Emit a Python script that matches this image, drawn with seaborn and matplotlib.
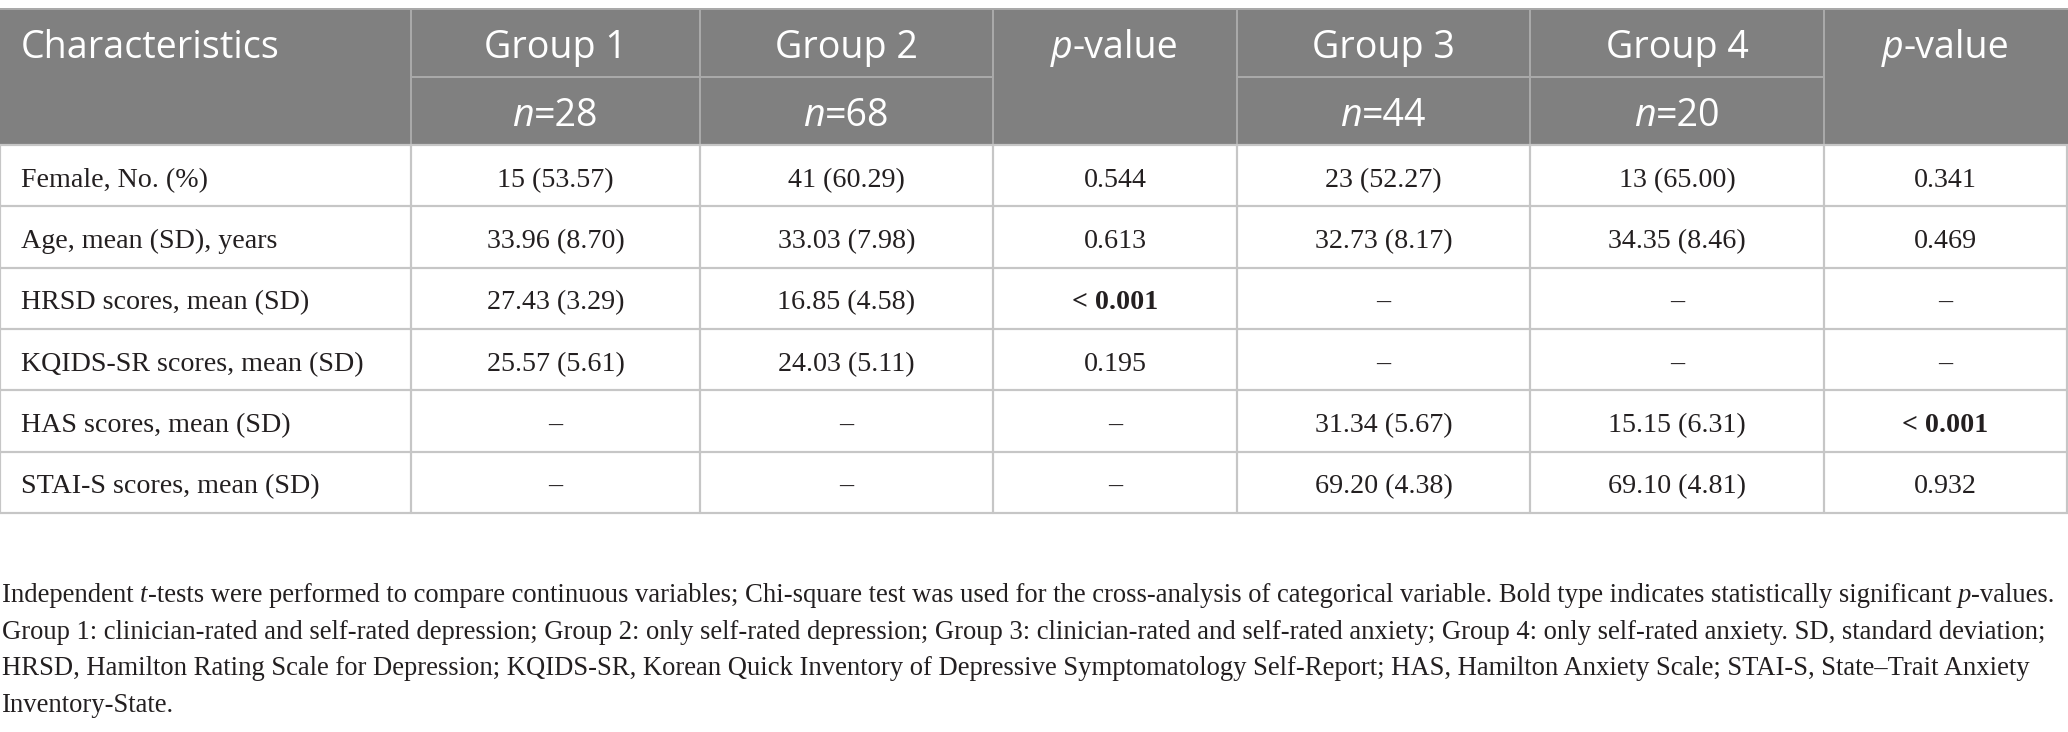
import matplotlib
matplotlib.use("Agg")
import numpy as np
import pandas as pd
import seaborn as sns
import matplotlib.pyplot as plt
from matplotlib.patches import Rectangle

# ---------------- data ----------------
characteristics = ["Female, No. (%)", "Age, mean (SD), years", "HRSD scores, mean (SD)",
                   "KQIDS-SR scores, mean (SD)", "HAS scores, mean (SD)", "STAI-S scores, mean (SD)"]
group1 = ["15 (53.57)", "33.96 (8.70)", "27.43 (3.29)", "25.57 (5.61)", "–", "–"]
group2 = ["41 (60.29)", "33.03 (7.98)", "16.85 (4.58)", "24.03 (5.11)", "–", "–"]
p_12 = ["0.544", "0.613", "< 0.001", "0.195", "–", "–"]
group3 = ["23 (52.27)", "32.73 (8.17)", "–", "–", "31.34 (5.67)", "69.20 (4.38)"]
group4 = ["13 (65.00)", "34.35 (8.46)", "–", "–", "15.15 (6.31)", "69.10 (4.81)"]
p_34 = ["0.341", "0.469", "–", "–", "< 0.001", "0.932"]
significant = ["< 0.001"]
group_labels = ["Group 1", "Group 2", "Group 3", "Group 4"]
group_n = [28, 68, 44, 20]
header_first = "Characteristics"

footnote_lines = [
    [("Independent ", "normal"), ("t", "italic"),
     ("-tests were performed to compare continuous variables; Chi-square test was used for the cross-analysis of categorical variable. Bold type indicates statistically significant ", "normal"),
     ("p", "italic"), ("-values.", "normal")],
    [("Group 1: clinician-rated and self-rated depression; Group 2: only self-rated depression; Group 3: clinician-rated and self-rated anxiety; Group 4: only self-rated anxiety. SD, standard deviation;", "normal")],
    [("HRSD, Hamilton Rating Scale for Depression; KQIDS-SR, Korean Quick Inventory of Depressive Symptomatology Self-Report; HAS, Hamilton Anxiety Scale; STAI-S, State–Trait Anxiety", "normal")],
    [("Inventory-State.", "normal")],
]

table = pd.DataFrame({"Characteristics": characteristics, "G1": group1, "G2": group2,
                      "P12": p_12, "G3": group3, "G4": group4, "P34": p_34})

# ---------------- layout ----------------
sns.set_theme(style="white")
plt.rcParams['font.family'] = ['Liberation Serif', 'DejaVu Serif']

W, H = 2068, 732
fig = plt.figure(figsize=(20.68, 7.32), dpi=100)
ax = fig.add_axes([0, 0, 1, 1])
ax.set_xlim(0, W)
ax.set_ylim(H, 0)
ax.axis('off')
fig.patch.set_facecolor('white')
renderer = fig.canvas.get_renderer()

col_edges = [0, 411, 700, 993, 1237, 1530, 1824, 2067]
head_top, head_mid, head_bot = 9, 77, 145
table_bot = 513
n_rows = len(characteristics)
row_h = (table_bot - head_bot) / n_rows

HEAD_FILL = '#808080'
HEAD_LINE = '#a9a9a9'
BODY_LINE = '#c6c6c6'
TEXT_COL = '#231f20'
SERIF = 'Liberation Serif'
SANS = 'Open Sans'


def measure(s, size, family, style='normal', weight='normal'):
    t = ax.text(0, 0, s, fontsize=size, family=family, style=style, weight=weight)
    w = t.get_window_extent(renderer).width
    t.remove()
    return w


def run_widths(runs, size, family, weight='normal'):
    out = []
    for s, st in runs:
        w = measure(s + "x", size, family, st, weight) - measure("x", size, family, st, weight)
        out.append(w)
    return out


def draw_runs(x, y, runs, size, family, color, ha='left', weight='normal'):
    ws = run_widths(runs, size, family, weight)
    total = sum(ws)
    start = x if ha == 'left' else x - total / 2
    for (s, st), w in zip(runs, ws):
        ax.text(start, y, s, fontsize=size, family=family, style=st, weight=weight,
                color=color, ha='left', va='baseline')
        start += w


# fit font sizes to measured reference widths
base = 20
body_size = base * 343 / measure("KQIDS-SR scores, mean (SD)", base, SERIF)
head_size = base * 257 / measure(header_first, base, SANS)
foot_size = base * 2060 / sum(run_widths(footnote_lines[0], base, SERIF))

# header background
ax.add_patch(Rectangle((0, head_top), W, head_bot - head_top, facecolor=HEAD_FILL,
                       edgecolor='none', zorder=0))
lw_px = 0.72
ax.plot([0, W], [head_top, head_top], color=HEAD_LINE, lw=2 * lw_px)
for x in col_edges[1:-1]:
    ax.plot([x, x], [head_top, head_bot], color=HEAD_LINE, lw=2 * lw_px)
for a, b in [(1, 3), (4, 6)]:
    ax.plot([col_edges[a], col_edges[b]], [head_mid, head_mid], color=HEAD_LINE, lw=2 * lw_px)

# body grid
for k in range(n_rows + 1):
    y = head_bot + k * row_h
    ax.plot([0, W], [y, y], color=BODY_LINE, lw=2.2 * lw_px)
for x in col_edges:
    ax.plot([x, x], [head_bot, table_bot], color=BODY_LINE, lw=2.2 * lw_px)

# header text
centers = [(col_edges[i] + col_edges[i + 1]) / 2 for i in range(len(col_edges) - 1)]
row1_base, row2_base = 58, 126
ax.text(21, row1_base, header_first, fontsize=head_size, family=SANS, color='white',
        ha='left', va='baseline')
group_cols = [1, 2, 4, 5]
for c, lab, n in zip(group_cols, group_labels, group_n):
    ax.text(centers[c], row1_base, lab, fontsize=head_size, family=SANS, color='white',
            ha='center', va='baseline')
    draw_runs(centers[c], row2_base, [("n", "italic"), (f"={n}", "normal")],
              head_size, SANS, 'white', ha='center')
for c in [3, 6]:
    draw_runs(centers[c], row1_base, [("p", "italic"), ("-value", "normal")],
              head_size, SANS, 'white', ha='center')

# body text
cols = ["G1", "G2", "P12", "G3", "G4", "P34"]
for r in range(n_rows):
    yb = head_bot + r * row_h + 0.68 * row_h
    ax.text(21, yb, table.loc[r, "Characteristics"], fontsize=body_size, family=SERIF,
            color=TEXT_COL, ha='left', va='baseline')
    for ci, col in enumerate(cols):
        val = table.loc[r, col]
        ax.text(centers[ci + 1], yb, val, fontsize=body_size, family=SERIF, color=TEXT_COL,
                ha='center', va='baseline',
                weight='bold' if val in significant else 'normal')

# footnote
foot_bases = [602, 638.7, 675.4, 712]
for runs, yb in zip(footnote_lines, foot_bases):
    draw_runs(2, yb, runs, foot_size, SERIF, TEXT_COL, ha='left')

fig.savefig("out.png", dpi=100, facecolor='white')
